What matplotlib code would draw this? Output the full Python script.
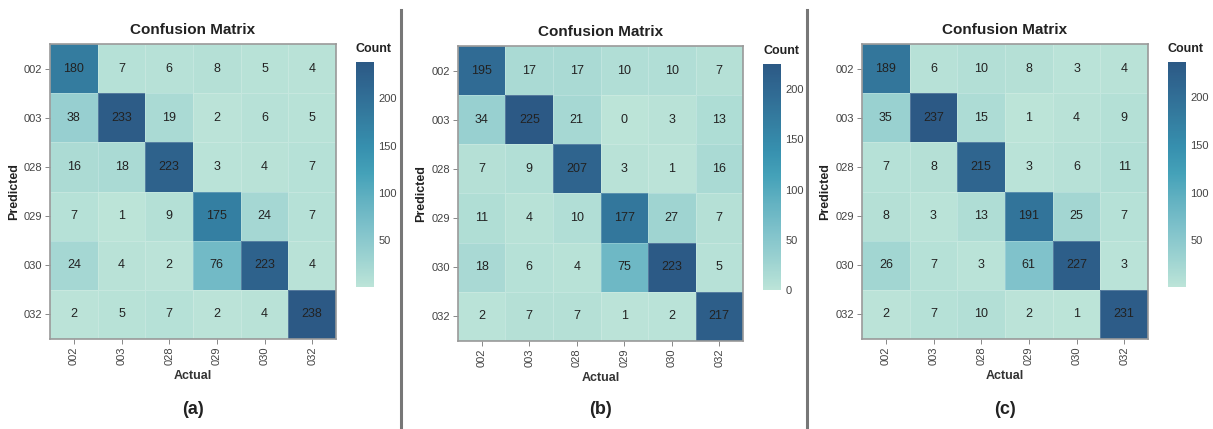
import numpy as np
import matplotlib
matplotlib.use("Agg")
import matplotlib.pyplot as plt
from matplotlib.colors import LinearSegmentedColormap, Normalize
from matplotlib.colorbar import ColorbarBase

plt.rcParams['font.family'] = ['Liberation Sans', 'DejaVu Sans']

labels = ['002', '003', '028', '029', '030', '032']

# rows = predicted, cols = actual
cm_a = [[180, 7, 6, 8, 5, 4],
        [38, 233, 19, 2, 6, 5],
        [16, 18, 223, 3, 4, 7],
        [7, 1, 9, 175, 24, 7],
        [24, 4, 2, 76, 223, 4],
        [2, 5, 7, 2, 4, 238]]
cm_b = [[195, 17, 17, 10, 10, 7],
        [34, 225, 21, 0, 3, 13],
        [7, 9, 207, 3, 1, 16],
        [11, 4, 10, 177, 27, 7],
        [18, 6, 4, 75, 223, 5],
        [2, 7, 7, 1, 2, 217]]
cm_c = [[189, 6, 10, 8, 3, 4],
        [35, 237, 15, 1, 4, 9],
        [7, 8, 215, 3, 6, 11],
        [8, 3, 13, 191, 25, 7],
        [26, 7, 3, 61, 227, 3],
        [2, 7, 10, 2, 1, 231]]
panel_tags = ['(a)', '(b)', '(c)']

tealblues = LinearSegmentedColormap.from_list('tealblues', [
    '#bce4d8', '#9dd3d1', '#81c3cb', '#65b3c2', '#45a2b9',
    '#368fae', '#347da0', '#306a93', '#2c5985'])

W, H = 1213, 429
fig = plt.figure(figsize=(W / 100, H / 100), dpi=100)


def box(x0, y0, x1, y1):
    return [x0 / W, 1 - y1 / H, (x1 - x0) / W, (y1 - y0) / H]


layouts = [
    dict(heat=(50, 44, 336, 339), cbar=(356, 62, 374, 287), pred_x=14),
    dict(heat=(458, 46, 743, 341), cbar=(763, 64, 781, 290), pred_x=421),
    dict(heat=(862, 44, 1148, 339), cbar=(1168, 62, 1186, 287), pred_x=825),
]

for cm, lay, tag in zip([cm_a, cm_b, cm_c], layouts, panel_tags):
    data = np.array(cm)
    norm = Normalize(data.min(), data.max())
    x0, y0, x1, y1 = lay['heat']
    ax = fig.add_axes(box(*lay['heat']))
    ax.pcolormesh(np.arange(7), np.arange(7), data, cmap=tealblues, norm=norm,
                  edgecolors=(1, 1, 1, 0.2), linewidth=0.6)
    ax.set_xlim(0, 6)
    ax.set_ylim(6, 0)
    for i in range(6):
        for j in range(6):
            ax.text(j + 0.5, i + 0.5, str(data[i, j]), ha='center', va='center',
                    fontsize=9, color='#222222')
    ax.set_xticks(np.arange(6) + 0.5)
    ax.set_yticks(np.arange(6) + 0.5)
    ax.set_xticklabels(labels, rotation=90, fontsize=8, color='#444444')
    ax.set_yticklabels(labels, fontsize=8, color='#444444')
    ax.tick_params(length=3.5, width=0.7, color='#888888', pad=2)
    for s in ax.spines.values():
        s.set_color('#999999')
        s.set_linewidth(1.2)
    fig.text(((x0 + x1) / 2) / W, 1 - (y0 - 14) / H, 'Confusion Matrix',
             ha='center', va='center', fontsize=11, fontweight='bold',
             color='#222222')
    fig.text(((x0 + x1) / 2) / W, 1 - (y0 + 332) / H, 'Actual',
             ha='center', va='center', fontsize=9, fontweight='bold',
             color='#333333')
    fig.text(lay['pred_x'] / W, 1 - ((y0 + y1) / 2) / H, 'Predicted',
             rotation=90, ha='center', va='center', fontsize=9,
             fontweight='bold', color='#222222')
    fig.text(((x0 + x1) / 2) / W, 1 - 410 / H, tag, ha='center', va='center',
             fontsize=13, fontweight='bold', color='#222222')

    cx0, cy0, cx1, cy1 = lay['cbar']
    cax = fig.add_axes(box(*lay['cbar']))
    cb = ColorbarBase(cax, cmap=tealblues, norm=norm)
    cb.outline.set_visible(False)
    ticks = [t for t in range(0, 251, 50) if data.min() <= t <= data.max()]
    cb.set_ticks(ticks)
    cax.tick_params(length=0, labelsize=8, labelcolor='#444444', pad=3)
    fig.text(cx0 / W, 1 - (cy0 - 13) / H, 'Count', ha='left', va='center',
             fontsize=9, fontweight='bold', color='#222222')

# gray separators between panels
for xs in [401, 807]:
    fig.add_artist(plt.Line2D([xs / W, xs / W], [0, 1 - 10 / H],
                              color='#777777', linewidth=2.2))

fig.savefig('out.png', dpi=100)
